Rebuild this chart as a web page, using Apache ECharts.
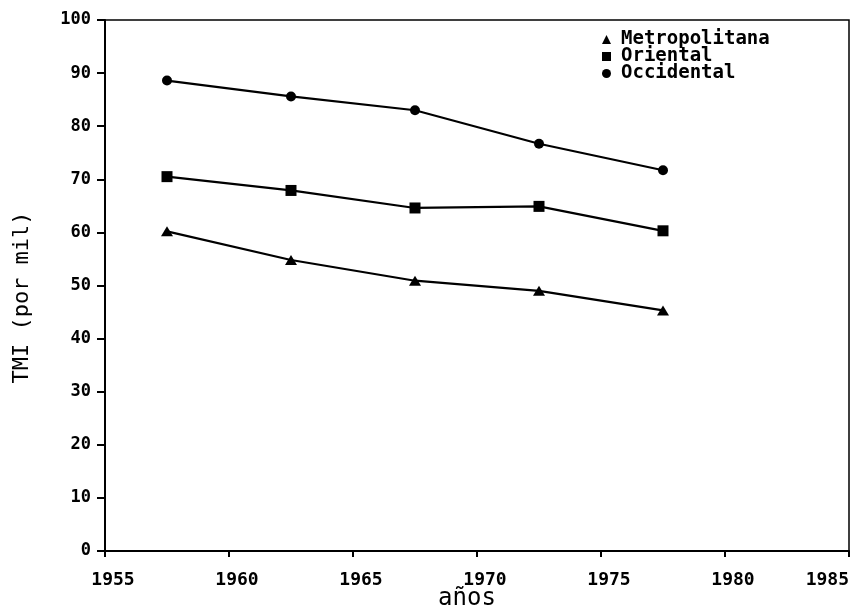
<!DOCTYPE html>
<html>
<head>
<meta charset="utf-8">
<script src="https://cdn.jsdelivr.net/npm/echarts@6/dist/echarts.min.js"></script>
<style>
html,body{margin:0;padding:0;background:#fff;}
#chart{width:864px;height:608px;}
</style>
</head>
<body>
<div id="chart"></div>
<script>
const years = [1957.5, 1962.5, 1967.5, 1972.5, 1977.5];
const metropolitana = [60.2, 54.8, 50.9, 49.0, 45.3];
const oriental = [70.5, 67.9, 64.6, 64.9, 60.3];
const occidental = [88.6, 85.6, 83.0, 76.7, 71.7];
const seriesNames = ['Metropolitana', 'Oriental', 'Occidental'];
const xLabel = 'años';
const yLabel = 'TMI (por mil)';

const pair = vals => years.map((y, i) => [y, vals[i]]);
const mono = '"DejaVu Sans Mono", "Liberation Mono", monospace';

const chart = echarts.init(document.getElementById('chart'), null, {renderer: 'canvas'});
const baseSeries = (name, vals, symbol, size) => ({
  name: name,
  type: 'line',
  data: pair(vals),
  symbol: symbol,
  symbolSize: size,
  lineStyle: {color: '#000', width: 2.2},
  itemStyle: {color: '#000'},
  animation: false
});

chart.setOption({
  backgroundColor: '#fff',
  grid: {left: 105, right: 15, top: 20, bottom: 57, show: true, borderColor: '#000', borderWidth: 1.5,
         containLabel: false, outerBoundsMode: 'none'},
  legend: {
    orient: 'vertical',
    left: 597,
    top: 25,
    itemWidth: 9,
    itemHeight: 9,
    itemGap: -2,
    data: [
      {name: seriesNames[0], icon: 'triangle'},
      {name: seriesNames[1], icon: 'rect'},
      {name: seriesNames[2], icon: 'circle'}
    ],
    textStyle: {fontFamily: mono, fontWeight: 'bold', fontSize: 19, color: '#000', lineHeight: 16, padding: [0, 0, 0, 5]}
  },
  xAxis: {
    type: 'value',
    min: 1955, max: 1985, interval: 5,
    name: xLabel,
    nameLocation: 'middle',
    nameGap: 36,
    nameMoveOverlap: false,
    nameTextStyle: {fontFamily: mono, fontSize: 24, color: '#000', padding: [0, 20, 0, 0]},
    axisLine: {lineStyle: {color: '#000', width: 2}},
    axisTick: {show: true, length: 6, lineStyle: {color: '#000', width: 2}},
    axisLabel: {fontFamily: mono, fontWeight: 'bold', fontSize: 18, color: '#000', margin: 20,
                padding: [0, 0, 0, 16], alignMaxLabel: 'right',
                formatter: v => String(v)},
    splitLine: {show: false}
  },
  yAxis: {
    type: 'value',
    min: 0, max: 100, interval: 10,
    name: yLabel,
    nameLocation: 'middle',
    nameGap: 72,
    nameRotate: 90,
    nameMoveOverlap: false,
    nameTextStyle: {fontFamily: mono, fontSize: 22, color: '#000', padding: [0, 24, 0, 0]},
    axisLine: {show: true, lineStyle: {color: '#000', width: 2}},
    axisTick: {show: true, length: 8, lineStyle: {color: '#000', width: 2}},
    axisLabel: {fontFamily: mono, fontWeight: 'bold', fontSize: 17, color: '#000', margin: 14},
    splitLine: {show: false}
  },
  series: [
    baseSeries(seriesNames[0], metropolitana, 'triangle', [12, 10]),
    baseSeries(seriesNames[1], oriental, 'rect', 11),
    baseSeries(seriesNames[2], occidental, 'circle', 10)
  ]
});
</script>
</body>
</html>
